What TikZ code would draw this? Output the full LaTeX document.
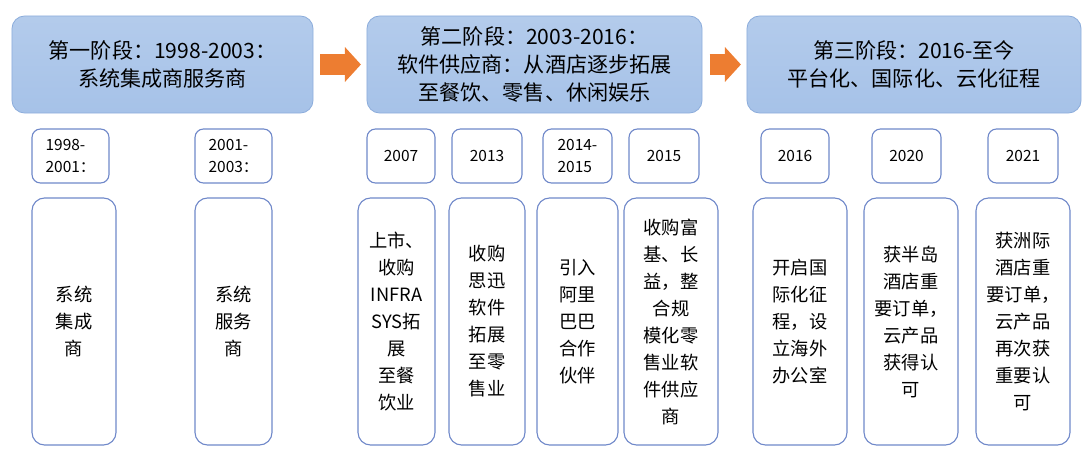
\documentclass[tikz,border=0pt]{standalone}
\usepackage{fontspec}
\setmainfont{Noto Sans CJK SC}
\usepackage{tikz}
\usetikzlibrary{arrows.meta}
\definecolor{phasefill}{HTML}{A6C2E8}
\definecolor{phaseline}{HTML}{8EAEDC}
\definecolor{boxline}{HTML}{6F88C9}
\definecolor{stagearrowc}{HTML}{ED7D31}
\tikzset{
  phase/.style={draw=phaseline, line width=0.6pt, top color=phasefill!85!white, bottom color=phasefill,
    rounded corners=9pt, minimum height=2.425cm, align=center,
    font=\fontsize{15}{20}\selectfont},
  yearbox/.style={draw=boxline, line width=0.8pt, rounded corners=6pt, minimum height=1.35cm,
    align=left, font=\fontsize{11}{15.5}\selectfont},
  eventbox/.style={draw=boxline, line width=0.8pt, rounded corners=9pt, minimum height=6.175cm,
    align=center, font=\fontsize{13}{19.2}\selectfont},
  stagearrow/.style={-{Triangle[length=0.4cm 0, width=0.85cm 0]}, draw=stagearrowc,
    line width=0.5cm, shorten <=5pt, shorten >=4pt}
}

\begin{document}
\begin{tikzpicture}[x=0.025cm, y=-0.025cm]
    \useasboundingbox (0,0) rectangle (1084,459);
    % stages
    \node[phase, minimum width=7.525cm] (h1) at (162.5,64.5) {第一阶段：1998-2003：\\系统集成商服务商};
    \node[phase, minimum width=8.375cm] (h2) at (534.5,64.5) {第二阶段：2003-2016：\\软件供应商：从酒店逐步拓展\\至餐饮、零售、休闲娱乐};
    \node[phase, minimum width=8.35cm] (h3) at (914,64.5) {第三阶段：2016-至今\\平台化、国际化、云化征程};
    \draw[stagearrow] (h1.east) -- (h2.west);
    \draw[stagearrow] (h2.east) -- (h3.west);
    % years
    \node[yearbox, minimum width=1.925cm] (y1) at (70.5,156) {1998-\\2001：};
    \node[yearbox, minimum width=1.925cm] (y2) at (233.5,156) {2001-\\2003：};
    \node[yearbox, minimum width=1.7cm] (y3) at (401,156) {2007};
    \node[yearbox, minimum width=1.75cm] (y4) at (487,156) {2013};
    \node[yearbox, minimum width=1.725cm] (y5) at (577.5,156) {2014-\\2015};
    \node[yearbox, minimum width=1.75cm] (y6) at (664,156) {2015};
    \node[yearbox, minimum width=1.7cm] (y7) at (795,156) {2016};
    \node[yearbox, minimum width=1.725cm] (y8) at (906.5,156) {2020};
    \node[yearbox, minimum width=1.75cm] (y9) at (1023,156) {2021};
    % events
    \node[eventbox, minimum width=2.1cm] (t1) at (74,321.5) {系统\\集成\\商};
    \node[eventbox, minimum width=1.925cm] (t2) at (233.5,321.5) {系统\\服务\\商};
    \node[eventbox, minimum width=1.925cm] (t3) at (396.5,321.5) {上市、\\收购\\INFRA\\SYS拓\\展\\至餐\\饮业};
    \node[eventbox, minimum width=1.9cm] (t4) at (487,321.5) {收购\\思迅\\软件\\拓展\\至零\\售业};
    \node[eventbox, minimum width=2.025cm] (t5) at (577.5,321.5) {引入\\阿里\\巴巴\\合作\\伙伴};
    \node[eventbox, minimum width=2.35cm] (t6) at (671,321.5) {收购富\\基、长\\益，整\\合规\\模化零\\售业软\\件供应\\商};
    \node[eventbox, minimum width=2.35cm] (t7) at (800,321.5) {开启国\\际化征\\程，设\\立海外\\办公室};
    \node[eventbox, minimum width=2.35cm] (t8) at (911,321.5) {获半岛\\酒店重\\要订单，\\云产品\\获得认\\可};
    \node[eventbox, minimum width=2.35cm] (t9) at (1023,321.5) {获洲际\\酒店重\\要订单，\\云产品\\再次获\\重要认\\可};
  \end{tikzpicture}
\end{document}
